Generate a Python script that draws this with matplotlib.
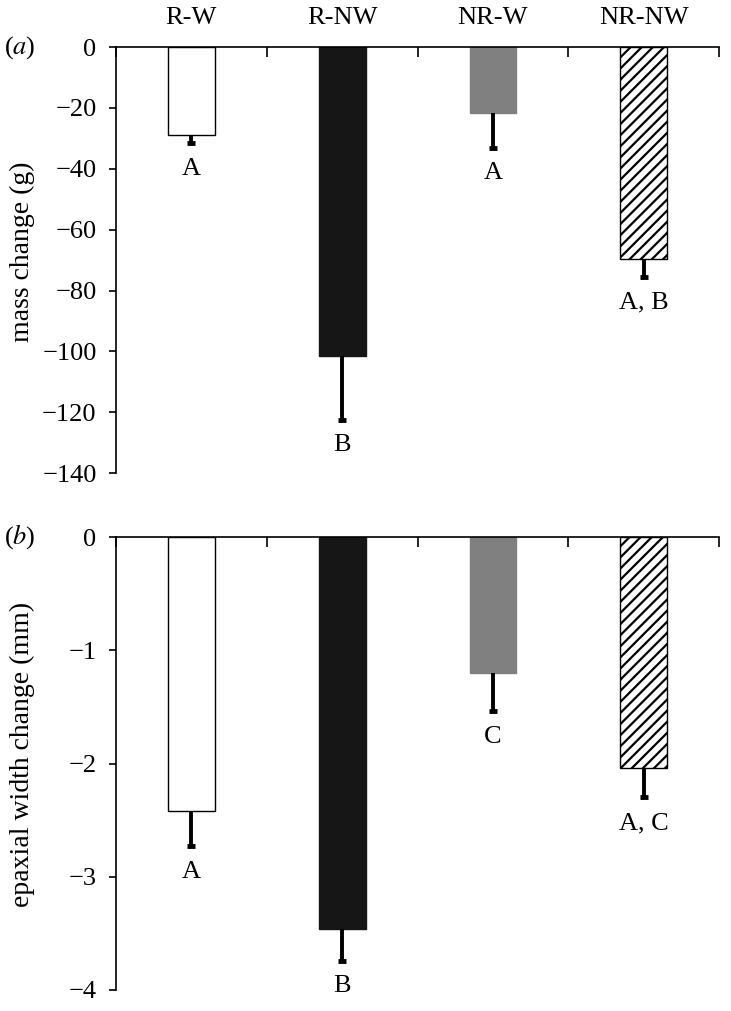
"""Mass and epaxial width change per treatment group (two-panel bar chart)."""

import numpy as np
import matplotlib

matplotlib.use("Agg")
import matplotlib.pyplot as plt

# ------------------------------------------------------------------ data
groups = ["R-W", "R-NW", "NR-W", "NR-NW"]

mass_change = [-29.0, -101.5, -21.5, -69.5]
mass_err = [2.5, 21.0, 11.5, 6.0]
mass_letters = ["A", "B", "A", "A, B"]

width_change = [-2.42, -3.46, -1.20, -2.04]
width_err = [0.31, 0.28, 0.34, 0.26]
width_letters = ["A", "B", "C", "A, C"]

mass_ticks = [0, -20, -40, -60, -80, -100, -120, -140]
width_ticks = [0, -1, -2, -3, -4]

plt.rcParams["font.family"] = ["Liberation Serif", "DejaVu Serif"]
plt.rcParams["mathtext.fontset"] = "stix"
plt.rcParams["hatch.linewidth"] = 1.6

FS = 19
FACES = ["white", "#161616", "#808080", "white"]
EDGES = ["black", "#161616", "#808080", "black"]
HATCHES = [None, None, None, "///"]


def draw_panel(ax, values, errs, letters, ticks, ylabel, tag, show_names):
    x = np.arange(len(values))
    for xi, v, fc, ec, h in zip(x, values, FACES, EDGES, HATCHES):
        ax.bar(xi, v, width=0.31, color=fc, edgecolor=ec,
               linewidth=1.0, hatch=h, zorder=2)
    # only the lower half of each error bar is drawn
    lows = np.array(values) - np.array(errs)
    ax.vlines(x, lows, values, colors="black", linewidth=2.8, zorder=3)
    ax.plot(x, lows, linestyle="none", marker="_", markersize=6,
            markeredgewidth=3.5, color="black", zorder=3)
    for xi, lo, lab in zip(x, lows, letters):
        ax.annotate(lab, (xi, lo), xytext=(0, -10.5), textcoords="offset points",
                    ha="center", va="top", fontsize=FS)

    ax.set_xlim(-0.5, len(values) - 0.5)
    ax.set_ylim(ticks[-1], 0)
    ax.set_yticks(ticks)
    ax.set_yticklabels([str(t).replace("-", "\u2212") for t in ticks], fontsize=FS)
    ax.set_ylabel(ylabel, fontsize=20)
    ax.yaxis.set_label_coords(-0.134, 0.52)

    # category axis sits at zero on top, ticks at group boundaries pointing down
    ax.spines["bottom"].set_visible(False)
    ax.spines["right"].set_visible(False)
    ax.spines["top"].set_linewidth(1.2)
    ax.spines["left"].set_linewidth(1.2)
    ax.xaxis.tick_top()
    ax.set_xticks(np.arange(len(values) + 1) - 0.5)
    ax.set_xticklabels([])
    ax.tick_params(axis="x", direction="in", length=7, width=1.2, top=True, bottom=False)
    ax.tick_params(axis="y", direction="out", length=5, width=1.2, pad=9)

    if show_names:
        for xi, name in zip(x, groups):
            ax.text(xi, 1.068, name, transform=ax.get_xaxis_transform(),
                    ha="center", va="center", fontsize=FS, clip_on=False)
    ax.text(-0.186, 1.0, f"(${tag}$)", transform=ax.transAxes, ha="left",
            va="center", fontsize=FS)


fig = plt.figure(figsize=(7.31, 10.11), dpi=100)
ax_a = fig.add_axes([0.1587, 0.532, 0.825, 0.4214])
ax_b = fig.add_axes([0.1587, 0.0208, 0.825, 0.448])

draw_panel(ax_a, mass_change, mass_err, mass_letters, mass_ticks,
           "mass change (g)", "a", True)
draw_panel(ax_b, width_change, width_err, width_letters, width_ticks,
           "epaxial width change (mm)", "b", False)

fig.savefig("out.png", dpi=100)
